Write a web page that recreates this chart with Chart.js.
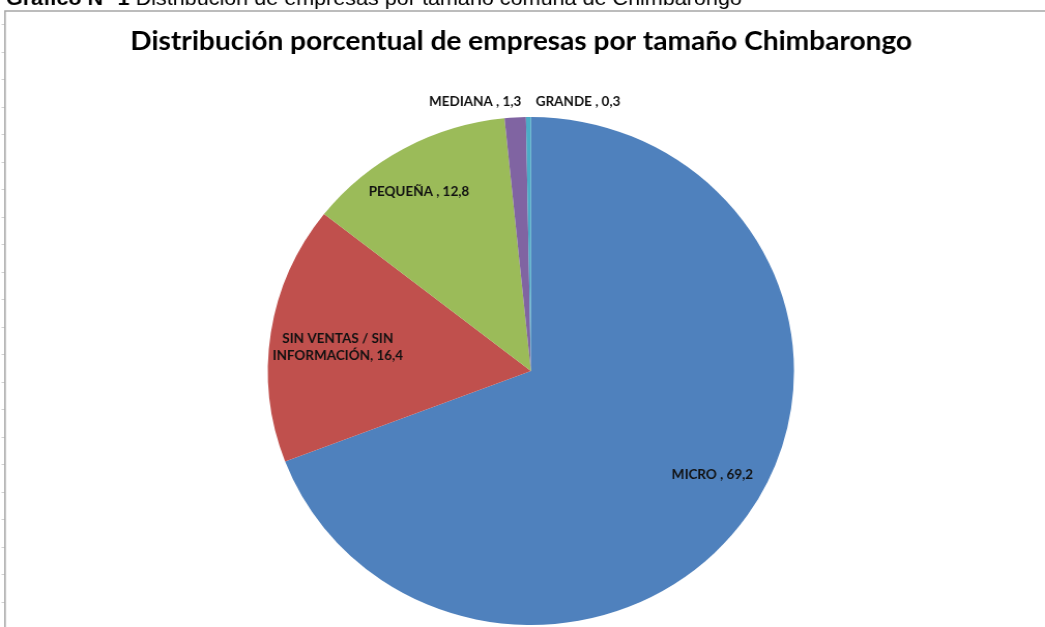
<!DOCTYPE html>
<html><head><meta charset="utf-8">
<script src="https://cdn.jsdelivr.net/npm/chart.js@4.4.0/dist/chart.umd.min.js"></script>
<style>
html,body{margin:0;padding:0;background:#fff;overflow:hidden;width:1045px;height:627px;}
#wrap{position:absolute;left:0;top:0;width:1009px;height:627px;transform:scaleX(1.0357);transform-origin:0 0;}
canvas{display:block;}
</style></head><body>
<div id="wrap"><canvas id="c" width="1009" height="627"></canvas></div>
<script>
// ---- data ----
const categories = ['MICRO', 'SIN VENTAS / SIN INFORMACIÓN', 'PEQUEÑA', 'MEDIANA', 'GRANDE'];
const values = [69.2, 16.4, 12.8, 1.3, 0.3];
const labelSeparators = [' , ', ', ', ' , ', ' , ', ' , '];
const chartTitle = 'Distribución porcentual de empresas por tamaño Chimbarongo';
const captionBold = 'Gráfico N° 1 ';
const captionText = 'Distribución de empresas por tamaño comuna de Chimbarongo';

// ---- styles / placement ----
const colors = ['#4F81BD', '#C0504D', '#9BBB59', '#8064A2', '#4BACC6'];
// label placement: angle (deg, clockwise from +x) and radius fraction
const labelAngles = [30.4, 187.3, 238.9, 258.7, 279.6];
const labelRadii = [0.80, 0.74, 0.824, 1.081, 1.075];

function fmt(v){ return v.toFixed(1).replace('.', ','); }

function fitFont(ctx, weight, family, text, target){
  ctx.font = weight + ' 20px ' + family;
  const w = ctx.measureText(text).width;
  return 20 * target / w;
}

function wrapText(ctx, text, maxW){
  const words = text.split(' ');
  const lines = [];
  let cur = '';
  for (const w of words){
    const t = cur ? cur + ' ' + w : w;
    if (cur && ctx.measureText(t).width > maxW){ lines.push(cur); cur = w; }
    else cur = t;
  }
  if (cur) lines.push(cur);
  return lines;
}

const decor = {
  id: 'decor',
  beforeDraw(chart){
    const ctx = chart.ctx;
    ctx.save();
    ctx.fillStyle = '#fff';
    ctx.fillRect(0,0,chart.width,chart.height);
    // frame
    ctx.strokeStyle = '#a6a6a6';
    ctx.lineWidth = 1.5;
    ctx.beginPath();
    ctx.moveTo(4.8, chart.height);
    ctx.lineTo(4.8, 11);
    ctx.lineTo(chart.width, 11);
    ctx.stroke();
    // faint ruler ticks
    ctx.strokeStyle = '#d0d0d0';
    ctx.lineWidth = 1;
    for (let y = 24; y < chart.height; y += 27.5){
      ctx.beginPath(); ctx.moveTo(1.5, Math.round(y)+0.5); ctx.lineTo(4, Math.round(y)+0.5); ctx.stroke();
    }
    // caption (cut off at top)
    const capFam = '"Liberation Sans", Arial, sans-serif';
    ctx.font = 'bold 20px ' + capFam;
    const wb = ctx.measureText(captionBold).width;
    ctx.font = '20px ' + capFam;
    const wr = ctx.measureText(captionText).width;
    const cs = 20 * 711 / (wb + wr);
    ctx.fillStyle = '#000';
    ctx.textBaseline = 'alphabetic';
    ctx.textAlign = 'left';
    ctx.font = 'bold ' + cs + 'px ' + capFam;
    ctx.fillText(captionBold, 5.8, 5);
    const wb2 = ctx.measureText(captionBold).width;
    ctx.font = cs + 'px ' + capFam;
    ctx.fillText(captionText, 5.8 + wb2, 5);
    // title
    const tFam = 'Lato, "Open Sans", sans-serif';
    const ts = fitFont(ctx, 'bold', tFam, chartTitle, 755);
    ctx.font = 'bold ' + ts + 'px ' + tFam;
    ctx.textAlign = 'center';
    ctx.fillStyle = '#000';
    ctx.fillText(chartTitle, 503.2, 50);
    ctx.restore();
  },
  afterDatasetsDraw(chart){
    const ctx = chart.ctx;
    const meta = chart.getDatasetMeta(0);
    const fam = 'Lato, "Open Sans", sans-serif';
    const fs = fitFont(ctx, 'bold', fam, categories[0] + labelSeparators[0] + fmt(values[0]), 78.5);
    ctx.save();
    ctx.font = 'bold ' + fs + 'px ' + fam;
    ctx.fillStyle = '#111';
    ctx.textAlign = 'center';
    ctx.textBaseline = 'middle';
    meta.data.forEach((arc, i) => {
      const a = labelAngles[i] * Math.PI / 180;
      const r = arc.outerRadius * labelRadii[i];
      const x = arc.x + r * Math.cos(a);
      const y = arc.y + r * Math.sin(a);
      const text = categories[i] + labelSeparators[i] + fmt(values[i]);
      const lines = wrapText(ctx, text, 132);
      const lh = 17;
      lines.forEach((ln, k) => {
        ctx.fillText(ln, x, y + (k - (lines.length - 1) / 2) * lh + 0.5);
      });
    });
    ctx.restore();
  }
};

new Chart(document.getElementById('c'), {
  type: 'pie',
  data: {
    labels: categories,
    datasets: [{
      data: values,
      backgroundColor: colors,
      borderWidth: 0,
      hoverOffset: 0,
      offset: 0
    }]
  },
  options: {
    responsive: false,
    animation: false,
    events: [],
    layout: { padding: { left: 16.2, right: 0, top: 117, bottom: 2 } },
    plugins: {
      legend: { display: false },
      title: { display: false },
      tooltip: { enabled: false }
    }
  },
  plugins: [decor]
});
</script>
</body></html>
